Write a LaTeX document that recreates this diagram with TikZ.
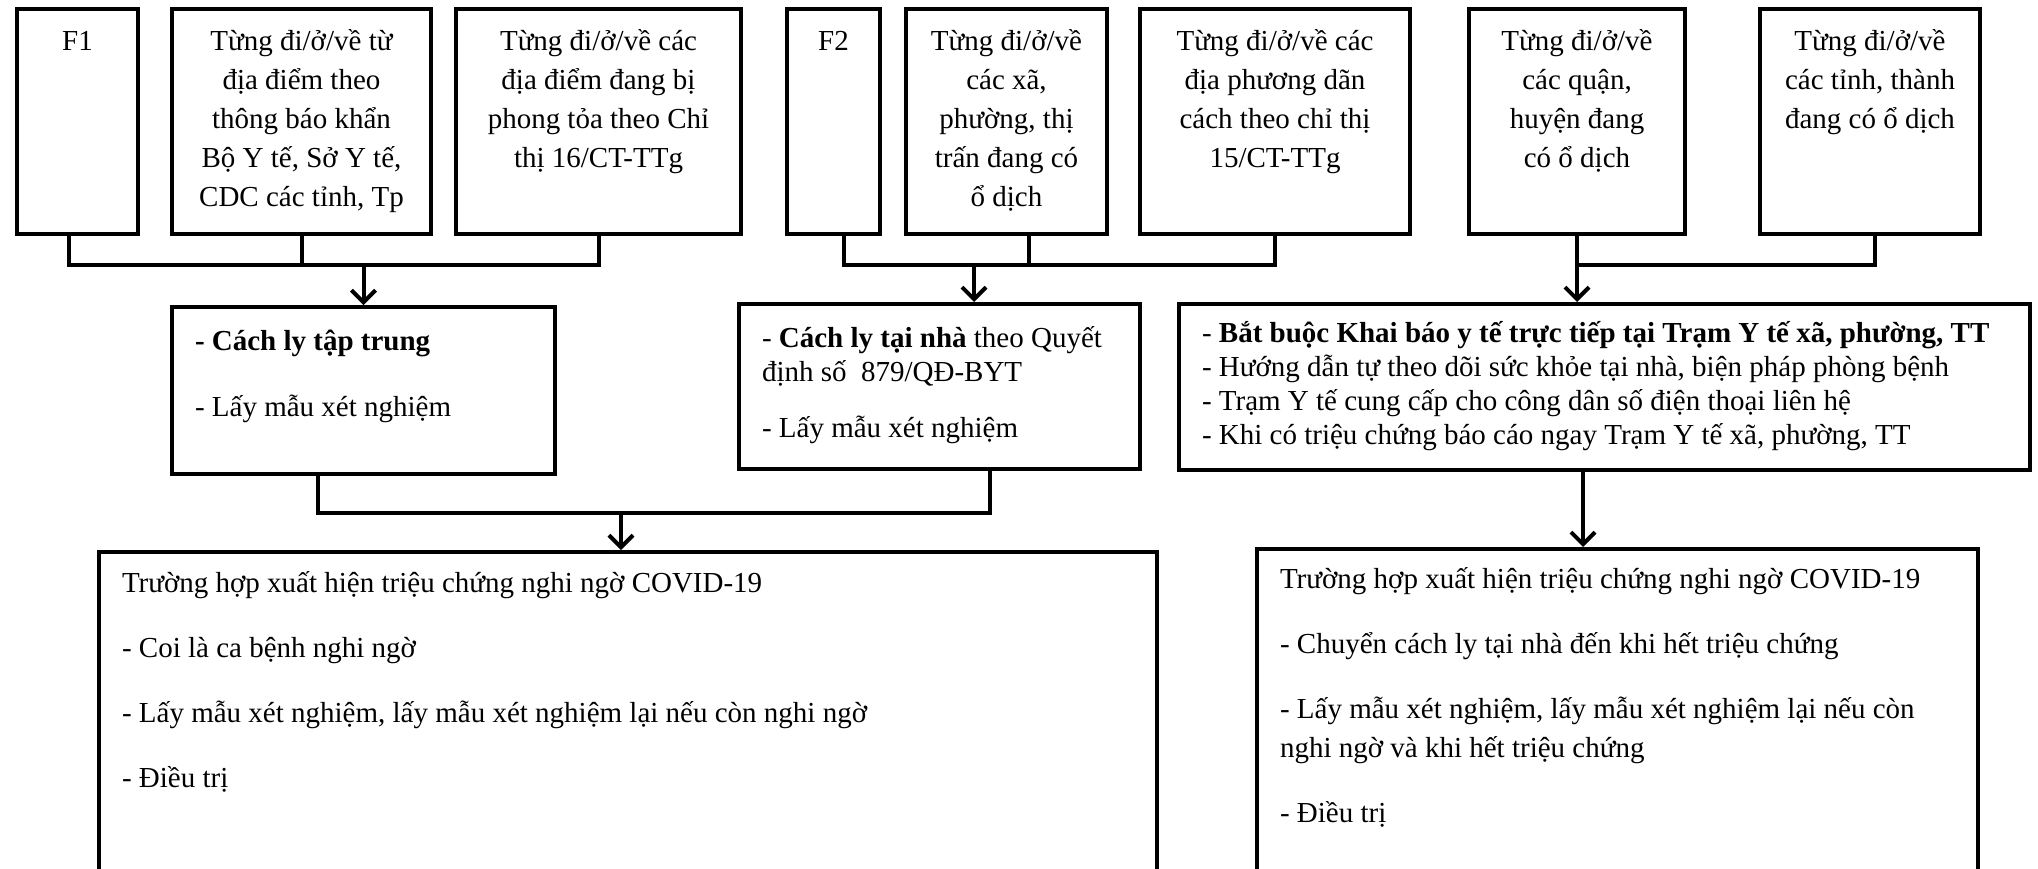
\documentclass[tikz,border=0pt]{standalone}
\usepackage{fontspec}
\setmainfont{Liberation Serif}
\usetikzlibrary{arrows.meta, positioning}

% text blocks inside the frames
\newcommand{\ctext}[3]{\parbox[t][#2][t]{#1}{\centering\lineskiplimit=-8pt\vspace*{6.85pt}\strut#3}}
\newcommand{\ltext}[4]{\parbox[t][#2][t]{#1}{\raggedright\leftskip=11.5pt\lineskiplimit=-8pt\vspace*{#3}\strut#4}}

\tikzset{
  frame/.style={draw, line width=2pt, inner sep=0pt, anchor=north west},
  topfont/.style={font=\fontsize{14.5}{19.5}\selectfont},
  midfont/.style={font=\fontsize{14.5}{17}\selectfont},
  link/.style={line width=2pt},
  arr/.style={line width=2pt, -{Straight Barb[length=6pt,width=12pt]}},
}

\begin{document}
\begin{tikzpicture}[x=0.5pt, y=-0.5pt]
    \useasboundingbox (0,0) rectangle (2038,868);
    \clip (0,0) rectangle (2038,868);

    % Top row
    \node[frame, topfont] (f1) at (15,7) {\ctext{60.5pt}{112.5pt}{F1}};
    \node[frame, topfont] (diadiem) at (170,7) {\ctext{129.5pt}{112.5pt}{Từng đi/ở/về từ\\địa điểm theo\\thông báo khẩn\\Bộ Y tế, Sở Y tế,\\CDC các tỉnh, Tp}};
    \node[frame, topfont] (phongtoa) at (454,7) {\ctext{142.5pt}{112.5pt}{Từng đi/ở/về các\\địa điểm đang bị\\phong tỏa theo Chỉ\\thị 16/CT-TTg}};
    \node[frame, topfont] (f2) at (785,7) {\ctext{46.5pt}{112.5pt}{F2}};
    \node[frame, topfont] (xa) at (904,7) {\ctext{100.5pt}{112.5pt}{Từng đi/ở/về\\các xã,\\phường, thị\\trấn đang có\\ổ dịch}};
    \node[frame, topfont] (ct15) at (1138,7) {\ctext{135pt}{112.5pt}{Từng đi/ở/về các\\địa phương dãn\\cách theo chỉ thị\\15/CT-TTg}};
    \node[frame, topfont] (quan) at (1467,7) {\ctext{108pt}{112.5pt}{Từng đi/ở/về\\các quận,\\huyện đang\\có ổ dịch}};
    \node[frame, topfont] (tinh) at (1758,7) {\ctext{110pt}{112.5pt}{Từng đi/ở/về\\các tỉnh, thành\\đang có ổ dịch}};

    % Middle row
    \node[frame, midfont] (taptrung) at (170,305) {\ltext{191.5pt}{83.5pt}{9.6pt}{\textbf{- Cách ly tập trung}\\[16pt]- Lấy mẫu xét nghiệm}};
    \node[frame, midfont] (tainha) at (737,302) {\ltext{200.5pt}{82.5pt}{9.6pt}{- \textbf{Cách ly tại nhà} theo Quyết\\định số\ \ 879/QĐ-BYT\\[11pt]- Lấy mẫu xét nghiệm}};
    \node[frame, midfont] (khaibao) at (1177,302) {\ltext{425.5pt}{83pt}{7.1pt}{- \textbf{Bắt buộc Khai báo y tế trực tiếp tại Trạm Y tế xã, phường, TT}\\- Hướng dẫn tự theo dõi sức khỏe tại nhà, biện pháp phòng bệnh\\- Trạm Y tế cung cấp cho công dân số điện thoại liên hệ\\- Khi có triệu chứng báo cáo ngay Trạm Y tế xã, phường, TT}};

    % Bottom row
    \node[frame, topfont] (trieuchung1) at (97,550) {\ltext{529pt}{200pt}{6.5pt}{Trường hợp xuất hiện triệu chứng nghi ngờ COVID-19\\[13pt]- Coi là ca bệnh nghi ngờ\\[13pt]- Lấy mẫu xét nghiệm, lấy mẫu xét nghiệm lại nếu còn nghi ngờ\\[13pt]- Điều trị}};
    \node[frame, topfont] (trieuchung2) at (1255,547) {\ltext{360.5pt}{200pt}{6.3pt}{Trường hợp xuất hiện triệu chứng nghi ngờ COVID-19\\[13pt]- Chuyển cách ly tại nhà đến khi hết triệu chứng\\[13pt]- Lấy mẫu xét nghiệm, lấy mẫu xét nghiệm lại nếu còn\\nghi ngờ và khi hết triệu chứng\\[13pt]- Điều trị}};

    % Connectors
    \coordinate (bartop) at (0,265);
    \coordinate (barmid) at (0,513);

    \draw[link] ([xshift=-4.25pt]f1.south) |- (phongtoa.south |- bartop) -- (phongtoa.south);
    \draw[link] (diadiem.south) -- (diadiem.south |- bartop);
    \draw[arr] (taptrung.north |- bartop) -- (taptrung.north);

    \draw[link] ([xshift=5.25pt]f2.south) |- (ct15.south |- bartop) -- (ct15.south);
    \draw[link] ([xshift=11.25pt]xa.south) -- ([xshift=11.25pt]xa.south |- bartop);
    \draw[arr] ([xshift=17.25pt]tainha.north |- bartop) -- ([xshift=17.25pt]tainha.north);

    \draw[link] (quan.south |- bartop) -| ([xshift=2.5pt]tinh.south);
    \draw[arr] (quan.south) -- (quan.south |- khaibao.north);

    \draw[link] ([xshift=-22.75pt]taptrung.south) |- ([xshift=25.25pt]tainha.south |- barmid) -- ([xshift=25.25pt]tainha.south);
    \draw[arr] ([xshift=-3.5pt]trieuchung1.north |- barmid) -- ([xshift=-3.5pt]trieuchung1.north);

    \draw[arr] ([xshift=-10.75pt]khaibao.south) -- ([xshift=-10.75pt]khaibao.south |- trieuchung2.north);
\end{tikzpicture}
\end{document}
